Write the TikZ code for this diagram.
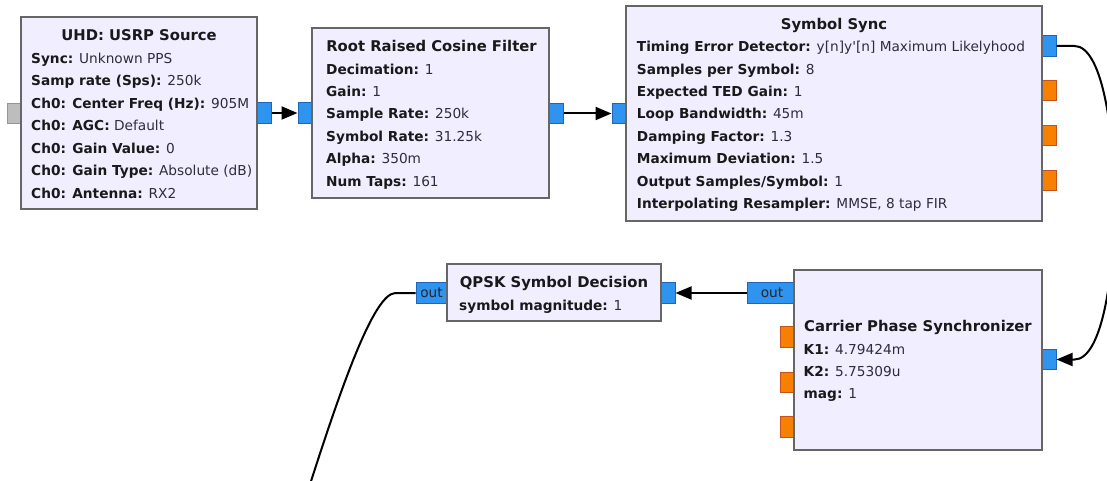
\documentclass[tikz,border=0pt]{standalone}
\usepackage{fontspec}
\setmainfont{DejaVu Sans}
\usetikzlibrary{arrows.meta}

\definecolor{blockfill}{HTML}{F1EEFF}
\definecolor{blockedge}{HTML}{666666}
\definecolor{cplxfill}{HTML}{2F93F0}
\definecolor{cplxedge}{HTML}{1F66B8}
\definecolor{msgfill}{HTML}{F78000}
\definecolor{msgedge}{HTML}{C4521E}
\definecolor{offfill}{HTML}{BDBDBD}
\definecolor{offedge}{HTML}{959595}
\definecolor{valtext}{HTML}{2E2E3A}

\newcommand{\grcfont}{\fontsize{13.7}{22.4}\selectfont}
\newcommand{\grctitlefont}{\fontsize{14.8}{22.4}\selectfont\bfseries}
\newcommand{\kv}[2]{\textbf{#1:} {\color{valtext}#2}}

\tikzset{
  block/.style={draw=blockedge, fill=blockfill, line width=2pt, inner sep=0pt},
  port/.style={draw=cplxedge, fill=cplxfill, line width=1pt, inner sep=0pt,
    minimum width=14pt, minimum height=20.5pt},
  msgport/.style={port, draw=msgedge, fill=msgfill},
  offport/.style={port, draw=offedge, fill=offfill},
  title/.style={anchor=base, inner sep=0pt, font=\grctitlefont, text=black!90},
  param/.style={anchor=base west, inner sep=0pt, font=\grcfont, text=black!90},
  portlabel/.style={inner sep=0pt, font=\grcfont, text=black!85},
  wire/.style={line width=2pt, black},
  flow/.style={wire, -{Triangle[length=16pt, width=13pt]}}
}

\begin{document}
\begin{tikzpicture}[x=1pt, y=-1pt]
\useasboundingbox (0,0) rectangle (1107,481);

% ---- ports (drawn under the block outlines) ----
\node[offport] (uhdIn)  at (14,113.5) {};
\node[port]    (uhdOut) at (264.5,113) {};
\node[port]    (rrcIn)  at (305,113) {};
\node[port]    (rrcOut) at (556,113.5) {};
\node[port]    (ssIn)   at (619,113.5) {};
\node[port]    (ssOut)  at (1049,46) {};
\node[msgport] (ssM1)   at (1049,90.7) {};
\node[msgport] (ssM2)   at (1049,135.5) {};
\node[msgport] (ssM3)   at (1049,180.3) {};

\node[port, minimum width=47pt] (cpsOut) at (770.5,293) {};
\node[msgport] (cpsM1)  at (787,337) {};
\node[msgport] (cpsM2)  at (787,382.3) {};
\node[msgport] (cpsM3)  at (787,427.2) {};
\node[port]    (cpsIn)  at (1049,359.5) {};

\node[port, minimum width=31pt] (qpskOut) at (431.5,293) {};
\node[port]    (qpskIn) at (668,293) {};

% ---- blocks ----
\node[block, minimum width=236pt, minimum height=192pt] (uhd)  at (139,113) {};
\node[block, minimum width=237pt, minimum height=170pt] (rrc)  at (430.5,113) {};
\node[block, minimum width=416pt, minimum height=215pt] (ss)   at (834,113.5) {};
\node[block, minimum width=214pt, minimum height=57pt]  (qpsk) at (554,292.5) {};
\node[block, minimum width=248pt, minimum height=180pt] (cps)  at (918,360) {};

% ---- port labels ----
\node[portlabel] (cpsOutLbl)  at ([xshift=1.5pt]cpsOut)  {out};
\node[portlabel] (qpskOutLbl) at (qpskOut) {out};

% ---- UHD: USRP Source ----
\node[title] (uhdT) at (139,40.7) {UHD: USRP Source};
\node[param] (uhd1) at (31,63.2)  {\kv{Sync}{Unknown PPS}};
\node[param] (uhd2) at (31,85.7)  {\kv{Samp rate (Sps)}{250k}};
\node[param] (uhd3) at (31,108.2) {\kv{Ch0: Center Freq (Hz)}{905M}};
\node[param] (uhd4) at (31,130.7) {\kv{Ch0: AGC}{Default}};
\node[param] (uhd5) at (31,153.2) {\kv{Ch0: Gain Value}{0}};
\node[param] (uhd6) at (31,175.7) {\kv{Ch0: Gain Type}{Absolute (dB)}};
\node[param] (uhd7) at (31,198.2) {\kv{Ch0: Antenna}{RX2}};

% ---- Root Raised Cosine Filter ----
\node[title] (rrcT) at (431.5,51.7) {Root Raised Cosine Filter};
\node[param] (rrc1) at (326,74.1)  {\kv{Decimation}{1}};
\node[param] (rrc2) at (326,96.5)  {\kv{Gain}{1}};
\node[param] (rrc3) at (326,118.9) {\kv{Sample Rate}{250k}};
\node[param] (rrc4) at (326,141.3) {\kv{Symbol Rate}{31.25k}};
\node[param] (rrc5) at (326,163.7) {\kv{Alpha}{350m}};
\node[param] (rrc6) at (326,186.1) {\kv{Num Taps}{161}};

% ---- Symbol Sync ----
\node[title] (ssT) at (834,29.3) {Symbol Sync};
\node[param] (ss1) at (636.7,51.7)  {\kv{Timing Error Detector}{y[n]y\textquotesingle[n] Maximum Likelyhood}};
\node[param] (ss2) at (636.7,74.1)  {\kv{Samples per Symbol}{8}};
\node[param] (ss3) at (636.7,96.5)  {\kv{Expected TED Gain}{1}};
\node[param] (ss4) at (636.7,118.9) {\kv{Loop Bandwidth}{45m}};
\node[param] (ss5) at (636.7,141.3) {\kv{Damping Factor}{1.3}};
\node[param] (ss6) at (636.7,163.7) {\kv{Maximum Deviation}{1.5}};
\node[param] (ss7) at (636.7,186.1) {\kv{Output Samples/Symbol}{1}};
\node[param] (ss8) at (636.7,208.5) {\kv{Interpolating Resampler}{MMSE, 8 tap FIR}};

% ---- QPSK Symbol Decision ----
\node[title] (qpskT) at (554,287.3) {QPSK Symbol Decision};
\node[param] (qpsk1) at (459,310) {\kv{symbol magnitude}{1}};

% ---- Carrier Phase Synchronizer ----
\node[title] (cpsT) at (918,331.7) {Carrier Phase Synchronizer};
\node[param] (cps1) at (803.5,354.1) {\kv{K1}{4.79424m}};
\node[param] (cps2) at (803.5,376.5) {\kv{K2}{5.75309u}};
\node[param] (cps3) at (803.5,398.9) {\kv{mag}{1}};

% ---- connections ----
\draw[flow] (uhdOut.east) -- (rrcIn.west);
\draw[flow] (rrcOut.east) -- (ssIn.west);
\draw[flow] (ssOut.east) -- ++(18,0)
  .. controls +(53,0) and +(53,0) .. ([xshift=18pt]cpsIn.east) -- (cpsIn.east);
\draw[flow] (cpsOut.west) -- (qpskIn.east);
\coordinate (sinkEnd) at (305,500);
\draw[wire] (qpskOut.west) -- ++(-20,0)
  .. controls +(-22,0) and (340,390) .. (sinkEnd);
\end{tikzpicture}
\end{document}
